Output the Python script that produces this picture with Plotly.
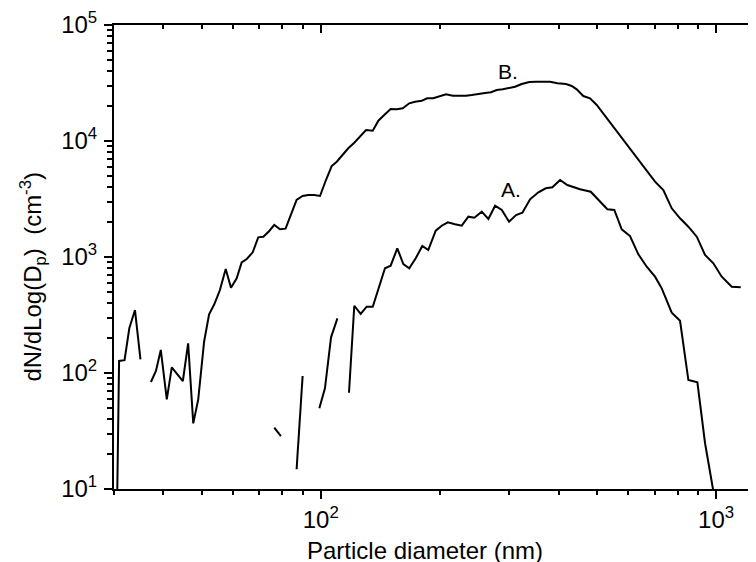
import math
import plotly.graph_objects as go

# Curve B (diameter nm, dN/dlogDp cm^-3); None = missing channel
B_d = [30.3, 30.9, 31.9, 32.8, 33.9, 35.0, 36.1,
       37.2, 38.3, 39.4, 40.8, 42.0, 43.4, 44.8, 46.2, 47.6, 49.0, 50.7, 52.2, 53.8, 55.6,
       57.5, 59.3, 61.3, 63.1, 65.0, 67.3, 69.5, 71.6, 74.1, 76.3, 78.9, 81.5, 84.1, 86.9,
       90.0, 93.0, 96.2, 99.6, 103.1, 106.6, 109.8, 113.7, 117.4, 121.6, 125.7, 130.2, 135.4,
       139.9, 145.4, 150.3, 155.7, 161.2, 167.5, 173.2, 180.1, 186.0, 192.6, 199.5, 207.5,
       215.8, 224.2, 233.2, 241.0, 250.5, 260.5, 269.7, 278.8, 288.7, 299.5, 310.2, 322.5,
       337.1, 350.6, 364.5, 380.4, 396.8, 417.4, 431.4, 444.2, 461.6, 480.0, 499.1, 529.1,
       560.9, 594.4, 630.1, 667.8, 700.9, 735.7, 772.5, 810.8, 851.1, 893.8, 938.0, 984.4,
       1033.7, 1095.8, 1154.8]
B_n = [1, 127, 129, 243, 349, 131, None,
       83.6, 104, 158, 59.3, 112, 97.5, 85.3, 180, 36.8, 59.3, 186, 321, 391, 519,
       788, 544, 655, 897, 961, 1098, 1478, 1496, 1675, 1888, 1733, 1754, 2302, 3100,
       3357, 3424, 3424, 3357, 4611, 6088, 6631, 7574, 8652, 9667, 11045, 12437, 12266,
       14962, 16992, 18873, 18760, 19135, 21135, 21817, 22254, 23340, 23340, 24093, 25268,
       24573, 24426, 24573, 24921, 25572, 25929, 26291, 27527, 27910, 28467, 29387, 31000,
       32252, 32446, 32446, 32446, 31431, 31000, 29796, 27910, 24426, 23340, 20430, 15691,
       12029, 9238, 7094, 5436, 4458, 3781, 2629, 2156, 1825, 1496, 1040, 882,
       676, 555, 548]

# Curve A
A_d = [76.3, 79.3, 84.1, 86.9, 90.0, 95.0, 99.2, 102.5, 106.2, 110.2, 113.7, 117.9,
       121.6, 126.2, 130.7, 135.4, 140.4, 145.4, 150.3, 156.2, 161.8, 167.5, 173.9, 180.7,
       187.1, 195.4, 202.3, 209.6, 218.7, 227.4, 236.3, 244.7, 255.5, 265.5, 276.1, 287.1,
       299.5, 312.0, 323.7, 338.5, 355.3, 370.9, 385.5, 403.2, 420.5, 439.8, 452.8, 482.0,
       505.8, 530.9, 552.9, 577.3, 605.9, 636.0, 667.8, 700.9, 728.8, 750.4, 772.5, 810.8,
       851.1, 897.0, 938.0, 1017.6]
A_n = [33.8, 28.6, None, 14.8, 94.2, None, 49.6, 73.8, 203, 296, None, 67.6,
       380, 323, 373, 373, 537, 799, 841, 1189, 870, 799, 975, 1244,
       1149, 1685, 1861, 1991, 1914, 1861, 2225, 2182, 2458, 2126, 2768, 2542,
       2016, 2302, 2409, 3143, 3613, 3910, 3990, 4611, 4176, 3958, 3834, 3655,
       3100, 2578, 2542, 1733, 1517, 1055, 825, 677, 537, 426, 331, 282,
       87.0, 83.1, 24.8, 5]

X_TICKS = [100, 1000]
X_TICK_TEXT = ["10<sup>2</sup>", "10<sup>3</sup>"]
Y_TICKS = [10, 100, 1000, 10000, 100000]
Y_TICK_TEXT = ["10<sup>1</sup>", "10<sup>2</sup>", "10<sup>3</sup>", "10<sup>4</sup>", "10<sup>5</sup>"]
X_RANGE = [30.0, 1262.0]
Y_RANGE = [10, 1e5]
FONT = "Liberation Sans, Arial, sans-serif"

fig = go.Figure()
for xs, ys in [(B_d, B_n), (A_d, A_n)]:
    fig.add_trace(go.Scatter(x=xs, y=ys, mode="lines", connectgaps=False,
                             line=dict(color="black", width=2), hoverinfo="skip"))
# dummy trace for the mirrored top/right axes
fig.add_trace(go.Scatter(x=[None], y=[None], xaxis="x2", yaxis="y2", showlegend=False))

xr = [math.log10(X_RANGE[0]), math.log10(X_RANGE[1])]
yr = [math.log10(Y_RANGE[0]), math.log10(Y_RANGE[1])]

common = dict(type="log", tickcolor="black", tickwidth=1.5, showline=True, linewidth=2,
              linecolor="black", showgrid=False, zeroline=False)
minor_out = dict(ticks="outside", ticklen=4, tickwidth=1.5, tickcolor="black",
                 dtick="D1", showgrid=False)

fig.update_layout(
    width=748, height=554,
    margin=dict(l=106, r=0, t=17, b=73),
    paper_bgcolor="white", plot_bgcolor="white", showlegend=False,
    font=dict(family=FONT, size=24, color="black"),
    xaxis=dict(range=xr, tickmode="array", tickvals=X_TICKS, ticktext=X_TICK_TEXT,
               ticks="outside", ticklen=8, minor=minor_out, **common),
    yaxis=dict(range=yr, tickmode="array", tickvals=Y_TICKS, ticktext=Y_TICK_TEXT,
               ticks="outside", ticklen=8, ticklabelstandoff=2,
               minor=dict(minor_out, ticklen=5), **common),
    xaxis2=dict(range=xr, overlaying="x", side="top", anchor="y", ticks="inside", ticklen=8,
                tickmode="array", tickvals=X_TICKS, showticklabels=False,
                minor=dict(minor_out, ticks="inside"), **common),
    yaxis2=dict(range=yr, overlaying="y", side="right", anchor="x", ticks="inside", ticklen=4,
                tickmode="array", tickvals=Y_TICKS, showticklabels=False, **common),
    annotations=[
        dict(text="Particle diameter (nm)", xref="paper", yref="paper", x=0.4844, y=-0.1336,
             xanchor="center", yanchor="middle", showarrow=False, font=dict(size=24)),
        dict(text="dN/dLog(D<sub>p</sub>)\u00a0\u00a0(cm<sup>-3</sup>)", xref="paper", yref="paper",
             x=-0.126, y=0.458, textangle=-90, xanchor="center", yanchor="middle",
             showarrow=False, font=dict(size=24)),
        dict(text="B.", xref="x", yref="y", x=math.log10(297.7), y=4.595,
             xanchor="center", yanchor="middle", showarrow=False, font=dict(size=21)),
        dict(text="A.", xref="x", yref="y", x=math.log10(303.0), y=3.578,
             xanchor="center", yanchor="middle", showarrow=False, font=dict(size=21)),
    ],
)

fig.write_html("out.html")
